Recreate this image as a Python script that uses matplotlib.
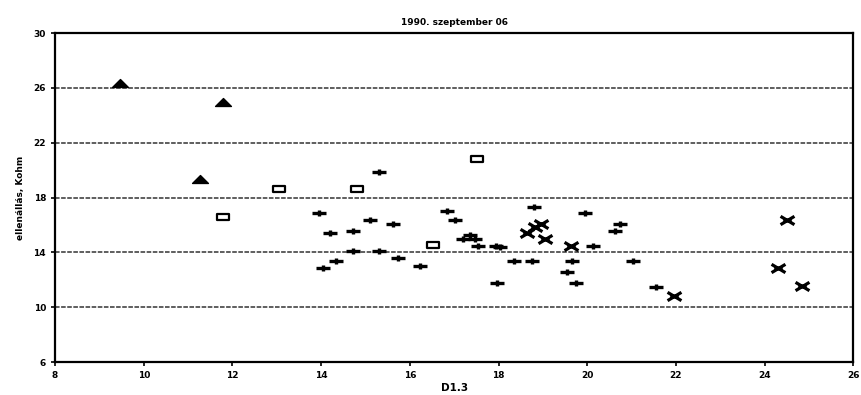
"""Scatter of resistance vs D1.3, 1990 szeptember 06"""

import matplotlib.pyplot as plt
from matplotlib.path import Path

# triangles
tri_x = [9.47, 11.79, 11.27]
tri_y = [26.4, 24.96, 19.35]

# open rectangles
sq_x = [11.79, 13.05, 14.81, 16.53, 17.52]
sq_y = [16.6, 18.6, 18.6, 14.53, 20.8]

# plus markers
plus_x = [15.31, 13.96, 15.1, 15.62, 14.2, 14.72, 14.72, 15.31, 14.34, 14.05,
          15.74, 16.23, 16.84, 17.02, 17.2, 17.36, 17.47, 17.54, 17.95, 18.04,
          17.97, 18.35, 18.76, 18.8, 20.14, 19.66, 19.55, 19.75, 19.96, 20.75,
          20.63, 21.04, 21.56]
plus_y = [19.85, 16.86, 16.35, 16.06, 15.4, 15.55, 14.1, 14.1, 13.36, 12.85,
          13.6, 13.0, 17.0, 16.35, 15.0, 15.3, 15.0, 14.5, 14.5, 14.4,
          11.8, 13.36, 13.36, 17.3, 14.5, 13.36, 12.55, 11.8, 16.86, 16.06,
          15.55, 13.36, 11.45]

# bowtie markers
bow_x = [18.65, 18.83, 18.96, 19.05, 19.64, 21.96, 24.51, 24.31, 24.85]
bow_y = [15.4, 15.84, 16.06, 15.0, 14.5, 10.8, 16.35, 12.85, 11.53]

x_ticks = [8, 10, 12, 14, 16, 18, 20, 22, 24, 26]
y_ticks = [6, 10, 14, 18, 22, 26, 30]

plus_marker = Path([(-1, 0), (1, 0), (0, -0.45), (0, 0.45)],
                   [Path.MOVETO, Path.LINETO, Path.MOVETO, Path.LINETO])
bow_marker = Path([(-1, 0.6), (1, -0.6), (-1, -0.6), (1, 0.6), (-0.6, 0), (0.6, 0)],
                  [Path.MOVETO, Path.LINETO, Path.MOVETO, Path.LINETO,
                   Path.MOVETO, Path.LINETO])
rect_marker = Path([(-1, -0.5), (1, -0.5), (1, 0.5), (-1, 0.5), (-1, -0.5)],
                   [Path.MOVETO, Path.LINETO, Path.LINETO, Path.LINETO, Path.CLOSEPOLY])
tri_marker = Path([(-1, -0.5), (1, -0.5), (0, 0.5), (-1, -0.5)],
                  [Path.MOVETO, Path.LINETO, Path.LINETO, Path.CLOSEPOLY])

fig = plt.figure(figsize=(8.61, 3.95), dpi=100)
ax = fig.add_axes([0.064, 0.0835, 0.927, 0.8325])

for gy in [10, 14, 18, 22, 26]:
    ax.axhline(gy, color="#333333", linestyle=(0, (3, 1)), linewidth=1.1, zorder=1)

ax.scatter(tri_x, tri_y, marker=tri_marker, s=130, color="black", zorder=3)
ax.scatter(sq_x, sq_y, marker=rect_marker, s=85, facecolors="white",
           edgecolors="black", linewidths=1.6, zorder=3)
ax.scatter(plus_x, plus_y, marker=plus_marker, s=110, color="black",
           linewidths=2.4, zorder=3)
ax.scatter(bow_x, bow_y, marker=bow_marker, s=100, color="black",
           linewidths=2.3, zorder=3)

ax.set_xlim(8, 26)
ax.set_ylim(6, 30)
ax.set_xticks(x_ticks)
ax.set_yticks(y_ticks)
ax.tick_params(labelsize=6.5, length=3, width=1.2, direction="out")
for lbl in ax.get_xticklabels() + ax.get_yticklabels():
    lbl.set_fontweight("bold")
for spine in ax.spines.values():
    spine.set_linewidth(1.6)

ax.set_xlabel("D1.3", fontsize=7.5, fontweight="bold", labelpad=2)
ax.set_ylabel("ellenállás, Kohm", fontsize=6.5, fontweight="bold", labelpad=6)
ax.set_title("1990. szeptember 06", fontsize=6.5, fontweight="bold", pad=6)

plt.savefig("out.png", dpi=100)
